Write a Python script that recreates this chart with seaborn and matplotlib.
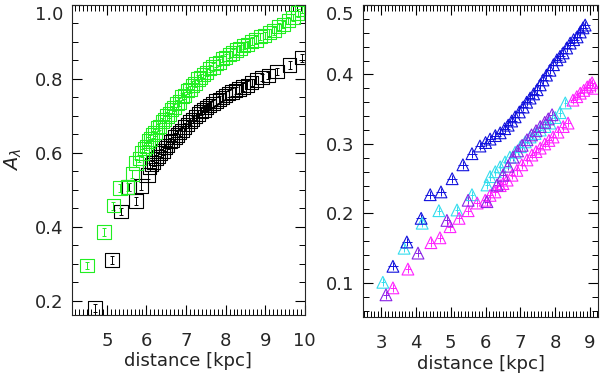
import numpy as np
import pandas as pd
import matplotlib
matplotlib.use("Agg")
import matplotlib.pyplot as plt
import matplotlib.transforms as mtransforms
from matplotlib.ticker import MultipleLocator
import seaborn as sns

# ---------------- data: left panel ----------------
green_x = [4.50, 4.93, 5.16, 5.33, 5.53, 5.64, 5.74, 5.82, 5.89, 5.95, 6.00, 6.05, 6.10, 6.16,
           6.22, 6.28, 6.33, 6.40, 6.46, 6.52, 6.58, 6.64, 6.70, 6.77, 6.83, 6.90, 6.96, 7.03,
           7.10, 7.16, 7.23, 7.30, 7.37, 7.44, 7.52, 7.60, 7.68, 7.76, 7.84, 7.92, 8.00, 8.09,
           8.18, 8.27, 8.36, 8.46, 8.56, 8.66, 8.77, 8.88, 8.99, 9.10, 9.22, 9.34, 9.46, 9.58,
           9.70, 9.82, 9.93]
green_y = [0.295, 0.386, 0.457, 0.505, 0.508, 0.543, 0.573, 0.585, 0.600, 0.612, 0.618, 0.632,
           0.638, 0.650, 0.655, 0.668, 0.672, 0.684, 0.690, 0.700, 0.705, 0.717, 0.722, 0.733,
           0.738, 0.752, 0.755, 0.768, 0.772, 0.783, 0.788, 0.800, 0.803, 0.812, 0.818, 0.828,
           0.832, 0.842, 0.845, 0.855, 0.858, 0.866, 0.870, 0.878, 0.882, 0.890, 0.893, 0.902,
           0.905, 0.914, 0.918, 0.926, 0.930, 0.942, 0.947, 0.958, 0.966, 0.978, 0.988]
green_err = 0.010

black_x = [4.70, 5.13, 5.36, 5.56, 5.74, 5.86, 6.04, 6.08, 6.13, 6.18, 6.24, 6.30, 6.36, 6.42,
           6.48, 6.54, 6.60, 6.66, 6.72, 6.78, 6.84, 6.90, 6.97, 7.04, 7.10, 7.17, 7.24, 7.31,
           7.38, 7.45, 7.52, 7.60, 7.68, 7.76, 7.84, 7.92, 8.00, 8.08, 8.16, 8.25, 8.34, 8.44,
           8.55, 8.66, 8.78, 8.92, 9.08, 9.30, 9.62, 9.93]
black_y = [0.181, 0.311, 0.441, 0.508, 0.470, 0.511, 0.540, 0.562, 0.568, 0.575, 0.585, 0.590,
           0.600, 0.605, 0.615, 0.620, 0.630, 0.633, 0.643, 0.648, 0.655, 0.660, 0.670, 0.676,
           0.685, 0.690, 0.698, 0.705, 0.712, 0.716, 0.722, 0.728, 0.734, 0.740, 0.745, 0.750,
           0.756, 0.760, 0.765, 0.768, 0.773, 0.778, 0.783, 0.790, 0.797, 0.803, 0.810, 0.820,
           0.838, 0.857]
black_err = 0.010

# ---------------- data: right panel ----------------
blue_x = [3.34, 3.74, 4.15, 4.41, 4.72, 5.04, 5.35, 5.61, 5.84, 6.00, 6.13, 6.28, 6.42, 6.55,
          6.65, 6.75, 6.85, 6.97, 7.08, 7.18, 7.28, 7.38, 7.48, 7.57, 7.65, 7.75, 7.85, 7.95,
          8.05, 8.14, 8.23, 8.33, 8.43, 8.53, 8.63, 8.72, 8.80, 8.86]
blue_y = [0.124, 0.159, 0.193, 0.227, 0.231, 0.250, 0.270, 0.286, 0.297, 0.302, 0.307, 0.312,
          0.316, 0.322, 0.327, 0.333, 0.339, 0.346, 0.353, 0.360, 0.366, 0.372, 0.378, 0.385,
          0.392, 0.399, 0.406, 0.414, 0.421, 0.426, 0.431, 0.438, 0.445, 0.450, 0.454, 0.461,
          0.467, 0.471]

cyan_x = [3.05, 3.66, 4.18, 4.66, 5.18, 5.61, 6.04, 6.13, 6.28, 6.42, 6.56, 6.70, 6.85, 7.00,
          7.14, 7.28, 7.42, 7.57, 7.71, 7.85, 8.00, 8.14, 8.29]
cyan_y = [0.101, 0.150, 0.186, 0.204, 0.205, 0.227, 0.241, 0.253, 0.260, 0.267, 0.274, 0.281,
          0.288, 0.296, 0.303, 0.310, 0.315, 0.320, 0.325, 0.330, 0.338, 0.345, 0.359]

purple_x = [3.14, 4.06, 4.89, 5.50, 6.04, 6.33, 6.50, 6.65, 6.79, 6.92, 7.05, 7.19, 7.32, 7.45,
            7.57, 7.70, 7.80, 7.91]
purple_y = [0.083, 0.143, 0.190, 0.219, 0.217, 0.241, 0.255, 0.268, 0.281, 0.290, 0.298, 0.306,
            0.313, 0.319, 0.325, 0.331, 0.336, 0.342]

magenta_x = [3.34, 3.77, 4.43, 4.69, 4.98, 5.24, 5.50, 5.76, 5.99, 6.13, 6.27, 6.42, 6.50, 6.62,
             6.76, 6.90, 7.04, 7.19, 7.33, 7.45, 7.57, 7.70, 7.82, 7.94, 8.08, 8.23, 8.37, 8.51,
             8.62, 8.72, 8.82, 8.92, 9.00, 9.06, 9.14]
magenta_y = [0.093, 0.120, 0.158, 0.165, 0.181, 0.193, 0.204, 0.215, 0.219, 0.226, 0.231, 0.240,
             0.243, 0.248, 0.255, 0.262, 0.270, 0.277, 0.284, 0.289, 0.294, 0.300, 0.305, 0.310,
             0.317, 0.325, 0.330, 0.363, 0.368, 0.373, 0.377, 0.382, 0.385, 0.388, 0.380]

right_xerr = {"blue": 0.15, "cyan": 0.05, "purple": 0.08, "magenta": 0.08}
right_yerr = 0.006

xlabel = "distance [kpc]"
ylabel = r"$A_\lambda$"

# ---------------- style ----------------
sns.set_style("ticks")
plt.rcParams["font.family"] = ["DejaVu Sans"]
plt.rcParams["font.size"] = 13
plt.rcParams["axes.linewidth"] = 0.8

fig = plt.figure(figsize=(6.0, 3.77), dpi=100)
lw = 0.8


def draw(ax, xs, ys, color, marker, size, xerr=None, yerr=None, capsize=0):
    ax.errorbar(xs, ys, xerr=xerr, yerr=yerr, fmt="none", ecolor=color,
                elinewidth=0.7, capsize=capsize, capthick=0.7, zorder=2)
    sns.scatterplot(x=xs, y=ys, ax=ax, marker=marker, s=size, facecolor="none",
                    edgecolor=color, linewidth=lw, zorder=3, legend=False)


def style_axes(ax, xlim, ylim, xmaj, xmin, ymaj, ymin):
    ax.set_xlim(*xlim)
    ax.set_ylim(*ylim)
    ax.set_xticks(np.arange(np.ceil(xlim[0] / xmaj) * xmaj, xlim[1] + 1e-9, xmaj))
    ax.set_xticks(np.arange(np.ceil(xlim[0] / xmin - 1e-9) * xmin, xlim[1] + 1e-9, xmin),
                  minor=True)
    ax.set_yticks(np.arange(np.ceil(ylim[0] / ymaj) * ymaj, ylim[1] + 1e-9, ymaj))
    ax.set_yticks(np.arange(np.ceil(ylim[0] / ymin - 1e-9) * ymin, ylim[1] + 1e-9, ymin),
                  minor=True)
    ax.tick_params(which="both", direction="in", top=True, right=True,
                   bottom=True, left=True)
    ax.tick_params(which="major", length=7, width=0.8, color="black")
    ax.tick_params(which="minor", length=4, width=0.7, color="black")
    ax.tick_params(axis="x", which="major", pad=12, labelsize=13)
    ax.tick_params(axis="y", which="major", pad=6, labelsize=13)
    for sp in ax.spines.values():
        sp.set_visible(True)
    ax.set_xlabel(xlabel, fontsize=13, labelpad=2, color="#222222")


# left panel
axL = fig.add_axes([0.120, 0.1645, 0.388, 0.8225])
draw(axL, black_x, black_y, "black", "s", 92, yerr=black_err, capsize=1.5)
draw(axL, green_x, green_y, "#22ee22", "s", 92, yerr=green_err, capsize=1.5)
style_axes(axL, (4.12, 10.0), (0.162, 1.0), 1, 0.1, 0.2, 0.05)
axL.set_yticklabels(["0.2", "0.4", "0.6", "0.8", "1.0"])
axL.set_xticklabels(["5", "6", "7", "8", "9", "10"])
axL.set_ylabel(ylabel, fontsize=14, labelpad=8, color="#222222")

# right panel
axR = fig.add_axes([0.605, 0.159, 0.3917, 0.828])
draw(axR, cyan_x, cyan_y, "#33ddee", "^", 72, xerr=right_xerr["cyan"], yerr=right_yerr)
draw(axR, magenta_x, magenta_y, "#ff22ff", "^", 72, xerr=right_xerr["magenta"], yerr=right_yerr)
draw(axR, purple_x, purple_y, "#8a22e6", "^", 72, xerr=right_xerr["purple"], yerr=right_yerr)
draw(axR, blue_x, blue_y, "#1111dd", "^", 72, xerr=right_xerr["blue"], yerr=right_yerr)
style_axes(axR, (2.48, 9.23), (0.051, 0.5), 1, 0.1, 0.1, 0.02)
axR.set_yticklabels(["0.1", "0.2", "0.3", "0.4", "0.5"])
axR.set_xticklabels(["3", "4", "5", "6", "7", "8", "9"])

# shift the topmost y tick label down slightly (as in the reference)
for ax in (axL, axR):
    lab = ax.yaxis.get_major_ticks()[-1].label1
    lab.set_transform(lab.get_transform() +
                      mtransforms.ScaledTranslation(0, -6 / 72, fig.dpi_scale_trans))

fig.savefig("out.png", dpi=100)
